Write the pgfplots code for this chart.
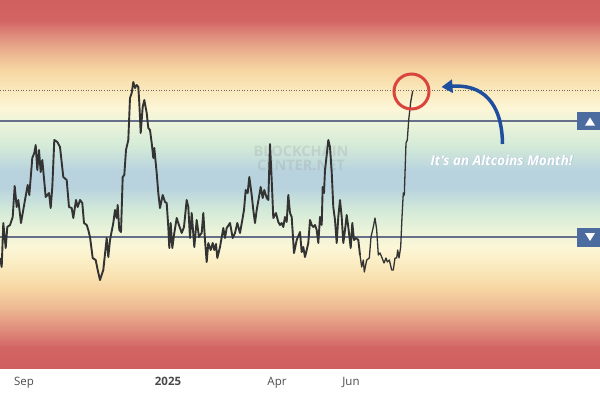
\documentclass[border=0pt]{standalone}
\usepackage{pgfplots}
\pgfplotsset{compat=1.18}
\usepackage{fontspec}
\setmainfont{Open Sans}
\usetikzlibrary{arrows.meta}

\definecolor{bgA}{HTML}{D05F5F}
\definecolor{bgB}{HTML}{D26464}
\definecolor{bgC}{HTML}{E0907E}
\definecolor{bgD}{HTML}{EDB892}
\definecolor{bgE}{HTML}{F7D6A3}
\definecolor{bgF}{HTML}{FAE9BC}
\definecolor{bgG}{HTML}{FCF6D6}
\definecolor{bgH}{HTML}{EDF4DA}
\definecolor{bgI}{HTML}{D5EBD8}
\definecolor{bgJ}{HTML}{B9D3DE}
\definecolor{lvl}{HTML}{66708A}
\definecolor{boxblue}{HTML}{4C6B9E}
\definecolor{arrowblue}{HTML}{1F4E9E}
\definecolor{circred}{HTML}{D9443C}
\definecolor{ticktxt}{HTML}{4A4A4A}

% background bands: y (from top) and colour
\newcommand{\band}[4]{\path[top color=#2, bottom color=#4] (axis cs:-5,#1) rectangle (axis cs:605,#3);}

\begin{document}
\begin{tikzpicture}
\begin{axis}[
    width=600pt, height=368pt, scale only axis,
    xmin=0, xmax=600, ymin=0, ymax=368,
    y dir=reverse,
    axis line style={draw=none},
    major tick length=0pt,
    ytick=\empty,
    xtick={24,168,277,351},
    xticklabels={Sep,\textbf{2025},Apr,Jun},
    xticklabel style={font=\fontsize{11.5}{13}\selectfont, text=ticktxt, anchor=north, inner sep=0pt, yshift=-9pt},
]
\band{0}{bgA}{20}{bgB}
\band{20}{bgB}{37}{bgC}
\band{37}{bgC}{54}{bgD}
\band{54}{bgD}{70}{bgE}
\band{70}{bgE}{90}{bgF}
\band{90}{bgF}{108}{bgG}
\band{108}{bgG}{122}{bgH}
\band{122}{bgH}{145}{bgI}
\band{145}{bgI}{170}{bgJ}
\band{170}{bgJ}{188}{bgJ}
\band{188}{bgJ}{212}{bgI}
\band{212}{bgI}{232}{bgH}
\band{232}{bgH}{248}{bgG}
\band{248}{bgG}{268}{bgF}
\band{268}{bgF}{288}{bgE}
\band{288}{bgE}{308}{bgD}
\band{308}{bgD}{328}{bgC}
\band{328}{bgC}{348}{bgB}
\band{348}{bgB}{369}{bgA}

% watermark
\node[font=\fontsize{14.5}{15}\selectfont\bfseries, text=gray, opacity=0.18] at (axis cs:301,151) {BLOCKCHAIN};
\node[font=\fontsize{14.5}{15}\selectfont\bfseries, text=gray, opacity=0.18] at (axis cs:301,165) {CENTER.NET};

% level lines
\addplot[lvl, line width=2pt] coordinates {(0,120.5) (600,120.5)};
\addplot[lvl, line width=2pt] coordinates {(0,236.7) (600,236.7)};
\addplot[black!60, dotted, line width=0.6pt] coordinates {(0,90.7) (600,90.7)};

% index line
\addplot[black!80, line width=1.9pt, line join=round] coordinates {
(0,258)(1.7,267)(3.3,223)(5.7,248)(7.3,227)(10,225)(12.7,217)(14.7,186)(16.7,207)(18.3,200)
(21,223)(25,200)(27.7,185)(29.3,195)(32.3,158)(34.3,153)(35.7,145)(37.3,170)(39,150)(40.7,172)
(42.3,160)(45.7,197)(49,193)(50.7,208)(52.3,187)(54.3,140)(57.3,142)(60,147)(63.3,177)(66.7,180)
(69,207)(71.7,208)(73.3,218)(76,200)(77.7,207)(80,200)(82.3,203)(84,223)(86.7,225)(88.3,230)
(90,237)(92.7,258)(95.7,260)(97.7,270)(100,280)(103.3,270)(106.7,238)(108.3,257)(110,240)(113.3,223)
(115,210)(116.7,218)(117.7,205)(119.3,230)(121,232)(122.7,177)(124.3,175)(126,150)(128.3,140)(130,98)
(131.7,93)(133.3,82)(135,88)(136.7,85)(138.3,87)(139.3,103)(140.7,133)(142.7,107)(144.3,100)(146.7,113)
(148.3,128)(150,130)(151.7,143)(153.3,158)(154.3,148)(156.7,173)(158.3,193)(160,208)(162.7,195)(165,202)
(166.7,203)(168.3,227)(169.3,248)(170.7,223)(172.3,248)(174.3,233)(176.7,218)(178.3,223)(181.7,233)(184,227)
(186.7,200)(188.3,207)(190,238)(191.7,213)(194.3,247)(196.7,220)(199,237)(200,235)(201.7,233)(203.3,213)
(205,240)(206.7,262)(208.3,243)(210.7,250)(212.7,243)(214.3,250)(216,244)(217.3,258)(220,247)(223.3,228)
(225,238)(226.7,228)(230,223)(232.7,238)(235,233)(237.3,223)(240,233)(242.3,220)(244,210)(245.7,190)
(247.7,193)(249.3,177)(251.7,195)(253.3,210)(255,223)(256.7,210)(259,197)(260.7,187)(262.7,198)(264.3,190)
(266.7,198)(268.3,200)(270,144)(271.7,180)(273.3,218)(276,213)(278.3,222)(280,225)(281.7,223)(283.3,227)
(285,217)(286.7,222)(288.3,195)(290,213)(291.7,217)(294,253)(296.7,240)(300,232)(301.7,252)(303.3,247)
(305,257)(306.7,250)(308.3,243)(310,220)(311.7,225)(313.3,227)(315,225)(316.7,230)(318.3,243)(320,217)
(321.7,225)(322.7,187)(324,193)(325,170)(326.7,155)(328.3,140)(330,147)(331.7,172)(333.3,207)(335,220)
(336.7,243)(338.3,217)(340,200)(341.7,217)(343.3,243)(345,230)(346.7,215)(348.3,227)(350.7,248)(352.3,223)
(354,240)(356,238)(358.3,240)(360,255)
};
\addplot[black!80, line width=1.3pt, line join=round] coordinates {
(360,255)(361.7,267)(363.3,260)(364.3,272)(366.7,260)(369.3,258)(371,237)(373.3,227)(375,218)(376.7,230)
(378.3,255)(380,253)(381.7,257)(384,263)(386,258)(387.3,262)(389.3,260)(391.7,270)(393.3,270)(395,258)
(396.7,258)(397.7,250)(399,258)(400.7,247)(402,217)(403.3,193)(404.3,195)(406,143)(407.3,140)(408.7,120)
(410.7,102)(412.7,91)
};

% annotations
\draw[circred, line width=3pt] (axis cs:411.5,91.5) circle [radius=17.5pt];
\draw[arrowblue, line width=3.5pt, -{Triangle[length=11pt,width=13pt]}]
  (axis cs:502.5,144) .. controls (axis cs:502,102) and (axis cs:482,84) .. (axis cs:441.5,87);
\node[font=\fontsize{13.5}{15}\selectfont\bfseries\itshape, text=arrowblue!40, opacity=0.8] at (axis cs:502.4,160.8) {It’s an Altcoins Month!};
\node[font=\fontsize{13.5}{15}\selectfont\bfseries\itshape, text=white] at (axis cs:501.7,160) {It’s an Altcoins Month!};

% side markers
\fill[boxblue] (axis cs:577,112) rectangle (axis cs:605,130);
\fill[white] (axis cs:585,125.5) -- (axis cs:595,125.5) -- (axis cs:590,117.5) -- cycle;
\fill[boxblue] (axis cs:577,228) rectangle (axis cs:605,246.5);
\fill[white] (axis cs:585,233) -- (axis cs:595,233) -- (axis cs:590,241) -- cycle;
\end{axis}
\pgfresetboundingbox
\path (0pt,-32pt) rectangle (600pt,368pt);
\end{tikzpicture}
\end{document}
